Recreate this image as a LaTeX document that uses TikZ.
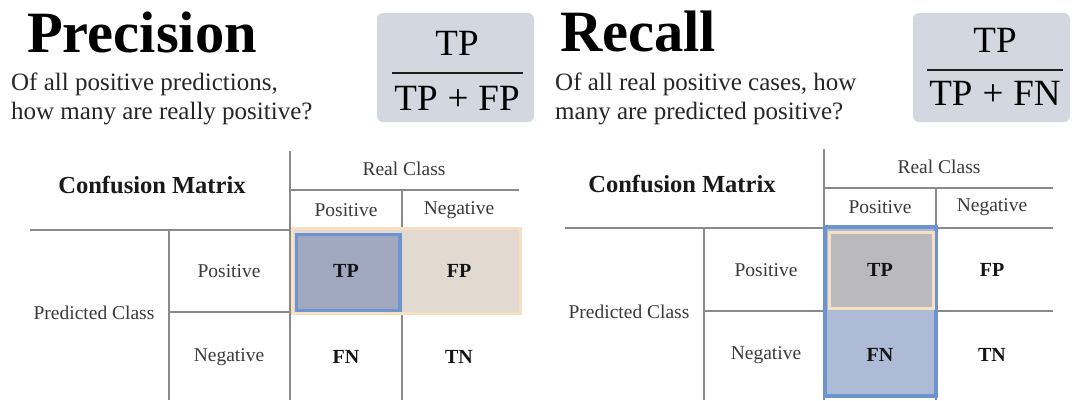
\documentclass[tikz,border=0pt]{standalone}
\usepackage{fontspec}
\setmainfont{Liberation Serif}
\definecolor{gridgray}{HTML}{8A8A8A}
\definecolor{txtgray}{HTML}{3A3A3A}
\definecolor{subtxt}{HTML}{262626}
\definecolor{fracbox}{HTML}{D3D7E0}
\definecolor{peach}{HTML}{F7DFC2}
\definecolor{beigefill}{HTML}{E2D9D0}
\definecolor{tpblue}{HTML}{9FA8BE}
\definecolor{blueb}{HTML}{6E94D0}
\definecolor{fnblue}{HTML}{AEBBD6}
\definecolor{tpgray}{HTML}{BABABC}
\begin{document}
\begin{tikzpicture}[x=1pt,y=-1pt,
  grid/.style={draw=gridgray, line width=1.2pt},
  lbl/.style={text=txtgray, font=\fontsize{19.5}{22}\selectfont, inner sep=0pt},
  cmtitle/.style={text=black!90, font=\bfseries\fontsize{24.5}{28}\selectfont, inner sep=0pt},
  cell/.style={text=black!92, font=\bfseries\fontsize{20}{24}\selectfont, inner sep=0pt},
  bigtitle/.style={anchor=base west, font=\bfseries\fontsize{58.5}{62}\selectfont, inner sep=0pt},
  subt/.style={anchor=base west, text=subtxt, font=\fontsize{25}{29}\selectfont, inner sep=0pt},
  fbox/.style={fill=fracbox, rounded corners=6pt},
  fracpart/.style={anchor=base, font=\fontsize{37}{42}\selectfont, inner sep=0pt},
  fracline/.style={draw=black!88, line width=2pt}]
\useasboundingbox (0,0) rectangle (1072,400);

% ---------------- Precision header ----------------
\node[bigtitle] (ptitle) at (27,52) {Precision};
\node[subt] (psub1) at (11,90) {Of all positive predictions,};
\node[subt] (psub2) at (11,119) {how many are really positive?};
\path[fbox] (377,13) rectangle (534,122);
\node[fracpart] (pnum) at (457,55) {TP};
\node[fracpart] (pden) at (457,110) {TP\hspace{10pt}+\hspace{10pt}FP};
\coordinate (pl1) at (392,73);
\coordinate (pl2) at (523,73);
\draw[fracline] (pl1) -- (pl2);

% ---------------- Recall header ----------------
\node[bigtitle] (rtitle) at (560,51) {Recall};
\node[subt] (rsub1) at (555,90) {Of all real positive cases, how};
\node[subt] (rsub2) at (555,119) {many are predicted positive?};
\path[fbox] (913,13) rectangle (1070,122);
\node[fracpart] (rnum) at (995,52) {TP};
\node[fracpart] (rden) at (995,105) {TP\hspace{10pt}+\hspace{10pt}FN};
\coordinate (rl1) at (927,70);
\coordinate (rl2) at (1063,70);
\draw[fracline] (rl1) -- (rl2);

% ---------------- Left confusion matrix ----------------
\draw[grid] (290,151) -- (290,400);
\draw[grid] (290,190) -- (519,190);
\draw[grid] (402,190) -- (402,400);
\draw[grid] (30,230) -- (519,230);
\draw[grid] (169,230) -- (169,400);
\draw[grid] (169,312) -- (519,312);
% highlight: precision row
\draw[draw=peach, line width=3pt, fill=beigefill] (292.5,228.5) rectangle (520.5,313.5);
\draw[draw=blueb, line width=3.5pt, fill=tpblue] (296.5,234.5) rectangle (400,310.5);

\node[cmtitle] (lcm) at (152,185) {Confusion Matrix};
\node[lbl] (lreal) at (404,169) {Real Class};
\node[lbl] (lcpos) at (346,210) {Positive};
\node[lbl] (lcneg) at (459,210) {Negative};
\node[lbl] (lpred) at (94,313) {Predicted Class};
\node[lbl] (lrpos) at (229,271) {Positive};
\node[lbl] (lrneg) at (229,357) {Negative};
\node[cell] (ltp) at (346,271) {TP};
\node[cell] (lfp) at (459,271) {FP};
\node[cell] (lfn) at (346,357) {FN};
\node[cell] (ltn) at (459,357) {TN};

% ---------------- Right confusion matrix ----------------
\draw[grid] (824,149) -- (824,400);
\draw[grid] (824,188) -- (1053,188);
\draw[grid] (936,188) -- (936,400);
\draw[grid] (565,228) -- (1053,228);
\draw[grid] (704,228) -- (704,400);
\draw[grid] (704,311) -- (1053,311);
% highlight: recall column
\draw[draw=blueb, line width=4pt, fill=fnblue] (825,227) rectangle (936,395.5);
\draw[draw=peach, line width=3pt, fill=tpgray] (829.5,232.5) rectangle (933.5,308.5);

\node[cmtitle] (rcm) at (682,184) {Confusion Matrix};
\node[lbl] (rreal) at (939,167) {Real Class};
\node[lbl] (rcpos) at (880,207) {Positive};
\node[lbl] (rcneg) at (992,207) {Negative};
\node[lbl] (rpred) at (629,312) {Predicted Class};
\node[lbl] (rrpos) at (766,270) {Positive};
\node[lbl] (rrneg) at (766,355) {Negative};
\node[cell] (rtp) at (880,270) {TP};
\node[cell] (rfp) at (992,270) {FP};
\node[cell] (rfn) at (880,355) {FN};
\node[cell] (rtn) at (992,355) {TN};
\end{tikzpicture}
\end{document}
